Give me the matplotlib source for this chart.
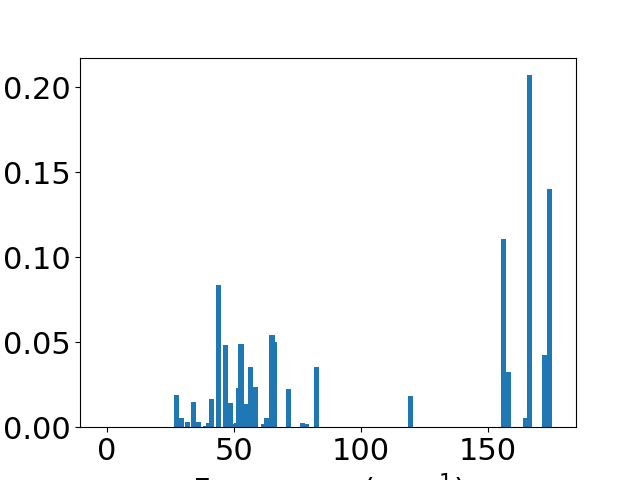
import matplotlib
matplotlib.use("Agg")
import matplotlib.pyplot as plt

freqs = [27.35, 29.3, 31.7, 34.0, 36.0, 38.7, 39.9, 41.1, 43.8, 46.6, 48.5,
         50.1, 50.9, 51.7, 52.8, 54.8, 56.4, 58.3, 61.5, 63.0, 65.8, 65.0,
         71.4, 76.8, 78.7, 82.6, 119.5, 156.0, 157.9, 164.8, 166.2, 172.1, 174.0]
intensities = [0.0189, 0.0053, 0.0030, 0.0147, 0.0030, 0.0008, 0.0023, 0.0165,
               0.0837, 0.0483, 0.0140, 0.0018, 0.0023, 0.0230, 0.0490, 0.0136,
               0.0354, 0.0236, 0.0018, 0.0053, 0.0500, 0.0540, 0.0224, 0.0023,
               0.0018, 0.0354, 0.0183, 0.1108, 0.0324, 0.0053, 0.2074, 0.0424,
               0.1402]

plt.rcParams['font.size'] = 22
fig, ax = plt.subplots(figsize=(6.4, 4.8), dpi=100)
ax.bar(freqs, intensities, width=2.0, color='#1f77b4')
ax.set_xlim(-10.5, 184.5)
ax.set_ylim(0, 0.2174)
ax.set_xticks([0, 50, 100, 150])
ax.set_yticks([0.0, 0.05, 0.10, 0.15, 0.20])
ax.set_xlabel("Frequency (cm$^{-1}$)")
fig.savefig("out.png", dpi=100)
